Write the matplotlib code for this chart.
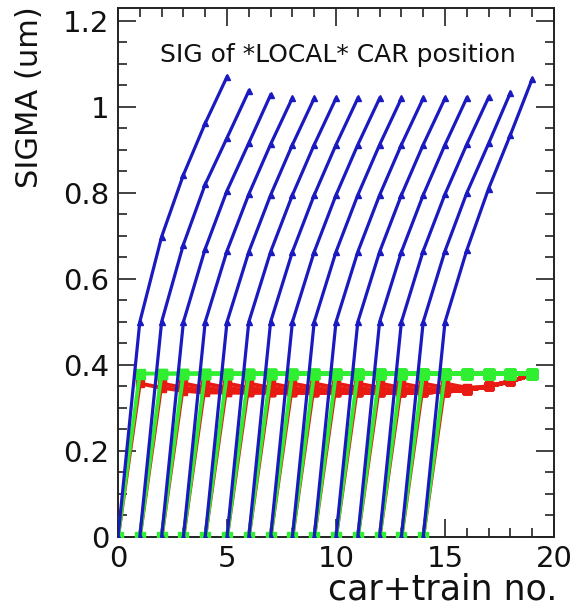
import matplotlib
matplotlib.use("Agg")
import matplotlib.pyplot as plt
from matplotlib.ticker import MultipleLocator, FixedLocator, FixedFormatter

plt.rcParams['font.family'] = ['DejaVu Sans']

# Car index at which each series starts (one blue/green/red curve per car)
car_start = list(range(15))
last_position = 19

# Blue: sigma of the car position for the first six steps after its start
blue_sigma = [
    [0.0, 0.50, 0.698, 0.842, 0.962, 1.070],
    [0.0, 0.50, 0.680, 0.820, 0.928, 1.037],
    [0.0, 0.50, 0.670, 0.805, 0.916, 1.028],
    [0.0, 0.50, 0.665, 0.797, 0.913, 1.021],
    [0.0, 0.50, 0.663, 0.795, 0.912, 1.020],
    [0.0, 0.50, 0.663, 0.795, 0.912, 1.020],
    [0.0, 0.50, 0.663, 0.795, 0.912, 1.020],
    [0.0, 0.50, 0.663, 0.795, 0.912, 1.020],
    [0.0, 0.50, 0.663, 0.795, 0.912, 1.020],
    [0.0, 0.50, 0.663, 0.795, 0.912, 1.020],
    [0.0, 0.50, 0.663, 0.795, 0.912, 1.020],
    [0.0, 0.50, 0.663, 0.795, 0.912, 1.021],
    [0.0, 0.50, 0.665, 0.797, 0.913, 1.022],
    [0.0, 0.50, 0.665, 0.800, 0.915, 1.033],
    [0.0, 0.50, 0.667, 0.810, 0.935, 1.065],
]

# Green: rises to its constraint level one step after start, then stays there
green_level = 0.38

# Red: settles after the start, flat plateau, then rises at the end of the train
red_head = [0.0, 0.357, 0.347, 0.340]
red_plateau = 0.336
red_tail_x = [15, 16, 17, 18, 19]
red_tail = [0.338, 0.342, 0.350, 0.362, 0.377]

x_ticks = [0, 5, 10, 15, 20]
x_tick_labels = ["0", "5", "10", "15", "20"]
y_ticks = [0, 0.2, 0.4, 0.6, 0.8, 1.0, 1.2]
y_tick_labels = ["0", "0.2", "0.4", "0.6", "0.8", "1", "1.2"]

BLUE = "#1a1ac0"
GREEN = "#30ee30"
RED = "#e81a12"

W, H = 577, 611
fig = plt.figure(figsize=(W / 100, H / 100), dpi=100)
ax = fig.add_axes([118 / W, 1 - 537 / H, 436 / W, 529 / H])


def red_series(k):
    xs, ys = [], []
    for x in range(k, last_position + 1):
        i = x - k
        v = red_head[i] if i < len(red_head) else red_plateau
        if x in red_tail_x and i > 0:
            v = max(v, red_tail[red_tail_x.index(x)])
        xs.append(x)
        ys.append(v)
    return xs, ys


for k in car_start:
    xs, ys = red_series(k)
    ax.plot(xs, ys, color=RED, lw=2.8, marker='s', ms=5.5, mec=RED, mfc=RED, zorder=2)

for k in car_start:
    xs = list(range(k, last_position + 1))
    ys = [0.0] + [green_level] * (len(xs) - 1)
    ax.plot(xs, ys, color=GREEN, lw=2.8, marker='s', ms=6.5, mec=GREEN, mfc=GREEN, zorder=3)

for k, row in zip(car_start, blue_sigma):
    xs = [k + i for i in range(len(row))]
    ax.plot(xs, row, color=BLUE, lw=2.3, marker='^', ms=5.0, mec=BLUE, mfc=BLUE, zorder=4)

ax.set_xlim(0, 20)
ax.set_ylim(0, 1.23)

ax.xaxis.set_major_locator(FixedLocator(x_ticks))
ax.xaxis.set_major_formatter(FixedFormatter(x_tick_labels))
ax.xaxis.set_minor_locator(MultipleLocator(1))
ax.yaxis.set_major_locator(FixedLocator(y_ticks))
ax.yaxis.set_major_formatter(FixedFormatter(y_tick_labels))
ax.yaxis.set_minor_locator(MultipleLocator(0.05))

ax.tick_params(which='both', direction='in', top=True, right=True, width=1.2, color='#222222')
ax.tick_params(which='major', length=13, labelsize=21, pad=6, labelcolor='#111111')
ax.tick_params(which='minor', length=6.5)
for s in ax.spines.values():
    s.set_linewidth(1.4)
    s.set_color('#222222')

fig.text(30 / W, 1 - 6 / H, "SIGMA (um)", rotation=90, ha='center', va='top',
         fontsize=22, color='#111111')
fig.text(557 / W, 1 - 600 / H, "car+train no.", ha='right', va='baseline',
         fontsize=25, color='#111111')
ax.text((160 - 118) / 436, (537 - 62) / 529, "SIG of *LOCAL* CAR position",
        transform=ax.transAxes, ha='left', va='baseline', fontsize=18, color='#111111')

fig.savefig("out.png", dpi=100)
